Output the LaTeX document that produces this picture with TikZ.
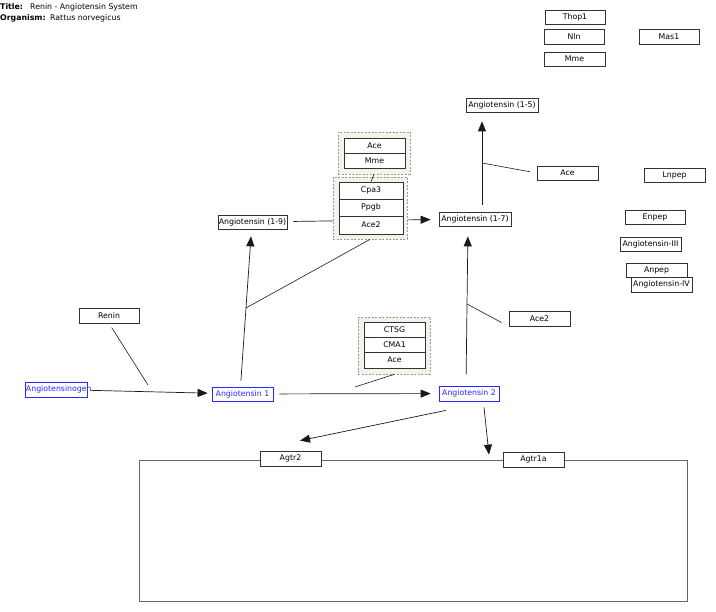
\documentclass[tikz,border=0pt]{standalone}
\usepackage{fontspec}
\setmainfont{DejaVu Sans}
\usetikzlibrary{arrows.meta}
\definecolor{grpfill}{RGB}{243,243,233}
\definecolor{metblue}{RGB}{40,40,255}
\begin{document}
\begin{tikzpicture}[
    x=1pt, y=-1pt,
    every node/.style={font=\fontsize{7.8}{9}\selectfont},
    gene/.style={draw=black!80, fill=white, line width=0.7pt, minimum width=61pt, minimum height=15pt, inner sep=0.5pt},
    metab/.style={gene, draw=metblue, text=metblue},
    grp/.style={draw=black!40, dash pattern=on 2pt off 1.5pt, fill=grpfill, line width=0.8pt},
    member/.style={gene, minimum width=61pt},
    arrow/.style={-{Triangle[length=10pt,width=8pt]}, line width=0.7pt, black!90},
    link/.style={line width=0.6pt, black!90},
]
\useasboundingbox (0,0) rectangle (716,612);

% Header
\node[anchor=west, inner sep=0, font=\fontsize{7.8}{9}\selectfont\bfseries] (ttl) at (0,7) {Title:};
\node[anchor=west, inner sep=0] (ttlval) at (30,7) {Renin - Angiotensin System};
\node[anchor=west, inner sep=0, font=\fontsize{7.8}{9}\selectfont\bfseries] (org) at (0,18) {Organism:};
\node[anchor=west, inner sep=0] (orgval) at (50,18) {Rattus norvegicus};

% Cell
\node[draw=black!60, line width=0.7pt, minimum width=548pt, minimum height=141pt] (cell) at (413,530.5) {};

% Anchors on reactions
\coordinate (c1) at (148,385);
\coordinate (a2) at (246,308);
\coordinate (a3) at (355,387);
\coordinate (a4) at (467,304);
\coordinate (a5) at (482,163);

% Ang (1-9) -> Ang (1-7), runs under group 2
\node[gene, minimum width=69pt, minimum height=14pt] (ang19) at (252.5,222) {Angiotensin (1-9)};
\node[gene, minimum width=72pt, minimum height=14pt] (ang17) at (475,219) {Angiotensin (1-7)};
\draw[arrow, shorten <=6pt, shorten >=8pt] (ang19) -- (ang17);

% Groups
\node[grp, minimum width=72pt, minimum height=42pt] (grp1) at (374,153) {};
\node[member, minimum height=15pt] (ace1) at (374.5,145.5) {Ace};
\node[member, minimum height=15pt] (mme1) at (374.5,160.5) {Mme};

\node[grp, minimum width=74pt, minimum height=62pt] (grp2) at (370,208) {};
\node[member, minimum width=64pt, minimum height=17pt] (cpa3) at (371,190.5) {Cpa3};
\node[member, minimum width=64pt, minimum height=17pt] (ppgb) at (371,207.5) {Ppgb};
\node[member, minimum width=64pt, minimum height=18pt] (ace2g) at (371,225) {Ace2};
\draw[link] (grp1.south) -- (cpa3.north);

\node[grp, minimum width=72pt, minimum height=57pt] (grp3) at (394,345.5) {};
\node[member, minimum height=15pt] (ctsg) at (394.5,329.5) {CTSG};
\node[member, minimum height=15pt] (cma1) at (394.5,344.5) {CMA1};
\node[member, minimum height=16pt] (ace3) at (394.5,360) {Ace};

% Other genes
\node[gene, minimum width=60pt, minimum height=14pt] (thop1) at (575,17) {Thop1};
\node[gene, minimum width=60pt] (nln) at (574,36.5) {Nln};
\node[gene, minimum height=14pt] (mme) at (574.5,59) {Mme};
\node[gene, minimum width=60pt] (mas1) at (669,36.5) {Mas1};
\node[gene, minimum width=72pt, minimum height=14pt] (ang15) at (502,105) {Angiotensin (1-5)};
\node[gene, minimum height=14pt] (acer) at (567.5,173) {Ace};
\node[gene, minimum height=14pt] (lnpep) at (674.5,175) {Lnpep};
\node[gene, minimum width=60pt, minimum height=14pt] (enpep) at (655,217) {Enpep};
\node[gene, minimum height=14pt] (ang3) at (650.5,244) {Angiotensin-III};
\node[gene, minimum height=14pt] (anpep) at (656.5,270) {Anpep};
\node[gene] (ang4) at (661.5,284.5) {Angiotensin-IV};
\node[gene, minimum width=60pt] (renin) at (109,315.5) {Renin};
\node[gene] (ace2r) at (539.5,318.5) {Ace2};

% Metabolites
\node[metab, minimum width=62pt, text width=60pt, align=center] (agt) at (56,389.5) {Angiotensinogen};
\node[metab, minimum height=14pt] (ang1) at (242.5,394) {Angiotensin 1};
\node[metab, minimum width=60pt] (ang2) at (469,393.5) {Angiotensin 2};

% Receptors
\node[gene] (agtr2) at (290.5,458.5) {Agtr2};
\node[gene] (agtr1a) at (533.5,459.5) {Agtr1a};

% Conversions
\draw[arrow, shorten <=3pt, shorten >=4pt] (agt) -- (ang1);
\draw[arrow, shorten <=6pt, shorten >=7pt] ([xshift=-2pt]ang1.north) -- ([xshift=-1pt]ang19.south);
\draw[arrow, shorten <=6pt, shorten >=8pt] (ang1) -- (ang2);
\draw[arrow, shorten <=11pt, shorten >=10pt] ([xshift=-3pt]ang2.north) -- ([xshift=-7pt]ang17.south);
\draw[arrow, shorten <=7pt, shorten >=9pt] ([xshift=7pt]ang17.north) -- ([xshift=-20pt]ang15.south);
\draw[arrow] ([xshift=-23pt, yshift=-9pt]ang2.south) -- ([xshift=9.5pt, yshift=10pt]agtr2.north);
\draw[arrow] ([xshift=15pt, yshift=-6pt]ang2.south) -- ([xshift=76pt, yshift=5pt]cell.north);

% Catalysis
\draw[link, shorten <=5pt] (renin.south) -- (c1);
\draw[link] (grp2.south) -- (a2);
\draw[link] (grp3.south) -- (a3);
\draw[link, shorten <=8pt] (ace2r.south west) -- (a4);
\draw[link, shorten <=7pt] (acer.west) -- (a5);

\end{tikzpicture}
\end{document}
